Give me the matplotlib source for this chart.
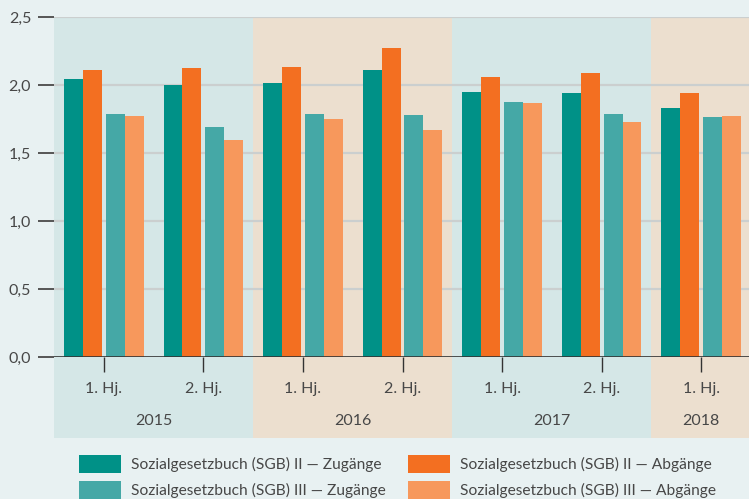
import matplotlib
matplotlib.use("Agg")
import matplotlib.pyplot as plt
import numpy as np
from matplotlib.patches import Rectangle
from matplotlib.transforms import blended_transform_factory

plt.rcParams['font.family'] = ['Lato', 'DejaVu Sans']

halves = ["1. Hj.", "2. Hj.", "1. Hj.", "2. Hj.", "1. Hj.", "2. Hj.", "1. Hj."]
years = ["2015", "2016", "2017", "2018"]
year_spans = [(0, 1), (2, 3), (4, 5), (6, 6)]
sgb2_zu = [2.045, 2.00, 2.015, 2.11, 1.95, 1.94, 1.83]
sgb2_ab = [2.11, 2.125, 2.13, 2.27, 2.06, 2.09, 1.94]
sgb3_zu = [1.79, 1.69, 1.79, 1.78, 1.875, 1.79, 1.765]
sgb3_ab = [1.77, 1.595, 1.75, 1.67, 1.87, 1.73, 1.77]
labels = ["Sozialgesetzbuch (SGB) II — Zugänge", "Sozialgesetzbuch (SGB) II — Abgänge",
          "Sozialgesetzbuch (SGB) III — Zugänge", "Sozialgesetzbuch (SGB) III — Abgänge"]
colors = ["#009187", "#F36F21", "#45A8A6", "#F7985C"]
band_colors = ["#D5E7E7", "#ECDFCF"]
bg = "#E8F1F2"
txt = "#474747"

W, H = 749, 499
fig = plt.figure(figsize=(W / 100, H / 100), dpi=100, facecolor=bg)
ax = fig.add_axes([54 / W, (H - 357) / H, 697 / W, 340 / H])
ax.patch.set_visible(False)

x = np.arange(len(halves))
bw = 0.19
offs = [-0.40, -0.21, 0.02, 0.21]
series = [sgb2_zu, sgb2_ab, sgb3_zu, sgb3_ab]
for s, o, c in zip(series, offs, colors):
    ax.bar(x + o, s, width=bw, align='edge', color=c, zorder=3)

ax.set_xlim(-0.5, 6.5)
ax.set_ylim(0, 2.5)

tr = blended_transform_factory(ax.transData, fig.transFigure)
y0 = (H - 438) / H
y1 = (H - 17) / H
for i, ((a, b), yr) in enumerate(zip(year_spans, years)):
    ax.add_patch(Rectangle((a - 0.5, y0), b - a + 1, y1 - y0, transform=tr,
                           color=band_colors[i % 2], zorder=0, clip_on=False, lw=0))
    ax.text((a + b) / 2, (H - 421) / H, yr, transform=tr, ha='center', va='center',
            fontsize=11.5, color=txt)

yt = np.arange(0, 2.51, 0.5)
ax.set_yticks(yt)
ax.set_yticklabels([f"{v:.1f}".replace('.', ',') for v in yt])
for v in yt[1:]:
    ax.axhline(v, color="#CBCFCF", lw=1.6, zorder=1)
ax.axhline(0, color="#333333", lw=1.2, zorder=4)

ax.set_xticks(x)
ax.set_xticklabels(halves)
ax.tick_params(axis='y', length=11.5, width=1.4, color="#555555", pad=5, labelsize=11.5, labelcolor=txt)
ax.tick_params(axis='x', length=11, width=1, color="#333333", pad=7, labelsize=11.5, labelcolor=txt)
for sp in ax.spines.values():
    sp.set_visible(False)

lx = [79, 408]
ly = [455, 481]
for i, (lab, c) in enumerate(zip(labels, colors)):
    col, row = i % 2, i // 2
    fig.add_artist(Rectangle((lx[col] / W, (H - ly[row] - 18) / H), 42 / W, 18 / H,
                             transform=fig.transFigure, color=c, lw=0))
    fig.text((lx[col] + 52) / W, (H - ly[row] - 9) / H, lab, ha='left', va='center',
             fontsize=11.2, color=txt)

fig.savefig("out.png", dpi=100, facecolor=bg)
